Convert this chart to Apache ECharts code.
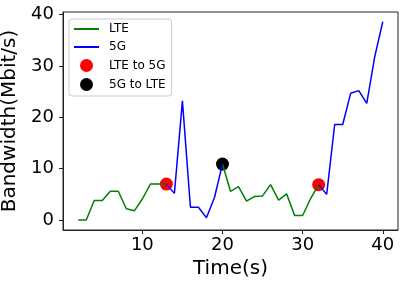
<!DOCTYPE html>
<html><head><meta charset="utf-8">
<script src="https://cdn.jsdelivr.net/npm/echarts@6/dist/echarts.min.js"></script>
<style>html,body{margin:0;padding:0;background:#fff}#c{width:404px;height:286px}</style>
</head><body><div id="c"></div>
<script>
const times = [2,3,4,5,6,7,8,9,10,11,12,13,14,15,16,17,18,19,20,21,22,23,24,25,26,27,28,29,30,31,32,33,34,35,36,37,38,39,40];
const lteValues = [0,0,3.8,3.8,5.6,5.6,2.2,1.8,4.1,7.0,7.0,7.0,null,null,null,null,null,null,10.9,5.6,6.5,3.7,4.6,4.7,6.9,3.9,5.1,0.9,0.9,4.2,6.9,null,null,null,null,null,null,null,null];
const nrValues = [null,null,null,null,null,null,null,null,null,null,null,7.0,5.2,23.2,2.5,2.5,0.45,4.4,10.9,null,null,null,null,null,null,null,null,null,null,null,6.9,5.0,18.6,18.6,24.7,25.2,22.7,31.8,38.6];
const lteTo5gTimes = [13,32];
const lteTo5gValues = [7.0,6.9];
const nrToLteTimes = [20];
const nrToLteValues = [10.9];
const xTicks = [10,20,30,40];
const yTicks = [0,10,20,30,40];
const seriesNames = ['LTE','5G','LTE to 5G','5G to LTE'];

const pair = (xs, ys) => xs.map((x,i)=>[x, ys[i] === null ? '-' : ys[i]]);
const font = 'DejaVu Sans';
const axisCol = '#222';

const chart = echarts.init(document.getElementById('c'), null, {renderer:'canvas'});
chart.setOption({
  animation:false,
  backgroundColor:'#fff',
  grid:{left:63, right:6, top:12, bottom:56, show:true, borderColor:axisCol, borderWidth:1, backgroundColor:'transparent', containLabel:false, outerBoundsMode:'none'},
  legend:{
    data:[
      {name:'LTE', itemStyle:{opacity:0}},
      {name:'5G', itemStyle:{opacity:0}},
      {name:'LTE to 5G'},
      {name:'5G to LTE'}
    ],
    orient:'vertical', left:69, top:19,
    itemWidth:25, itemHeight:13, itemGap:6,
    padding:[4,6,5,4],
    backgroundColor:'rgba(255,255,255,0.8)', borderColor:'#cccccc', borderWidth:1, borderRadius:3,
    textStyle:{fontFamily:font, fontSize:12, color:'#000', padding:[0,0,0,5]}
  },
  xAxis:{
    type:'value', min:0.1, max:41.9,
    name:'Time(s)', nameLocation:'middle', nameGap:29,
    nameTextStyle:{fontFamily:font, fontSize:20, color:'#000'},
    axisLine:{show:true, onZero:false, lineStyle:{color:axisCol, width:1}},
    axisTick:{show:true, length:4, lineStyle:{color:axisCol}, customValues:xTicks},
    axisLabel:{fontFamily:font, fontSize:18, color:'#000', margin:6, customValues:xTicks},
    splitLine:{show:false}
  },
  yAxis:{
    type:'value', min:-1.93, max:40.5,
    name:'Bandwidth(Mbit/s)', nameLocation:'middle', nameGap:35, nameRotate:90,
    nameTextStyle:{fontFamily:font, fontSize:20, color:'#000'},
    axisLine:{show:true, onZero:false, lineStyle:{color:axisCol, width:1}},
    axisTick:{show:true, length:4, lineStyle:{color:axisCol}, customValues:yTicks},
    axisLabel:{fontFamily:font, fontSize:18, color:'#000', margin:9, customValues:yTicks},
    splitLine:{show:false}
  },
  series:[
    {name:'LTE', type:'line', data:pair(times,lteValues), symbol:'none', z:3,
     lineStyle:{color:'#008000', width:1.5}, itemStyle:{color:'#008000'}, connectNulls:false},
    {name:'5G', type:'line', data:pair(times,nrValues), symbol:'none', z:3,
     lineStyle:{color:'#0000ff', width:1.5}, itemStyle:{color:'#0000ff'}, connectNulls:false},
    {name:'LTE to 5G', type:'scatter', data:pair(lteTo5gTimes,lteTo5gValues), symbol:'circle', symbolSize:13, z:2,
     itemStyle:{color:'#ff0000', opacity:1}},
    {name:'5G to LTE', type:'scatter', data:pair(nrToLteTimes,nrToLteValues), symbol:'circle', symbolSize:13, z:2,
     itemStyle:{color:'#000000', opacity:1}}
  ]
});
</script></body></html>
